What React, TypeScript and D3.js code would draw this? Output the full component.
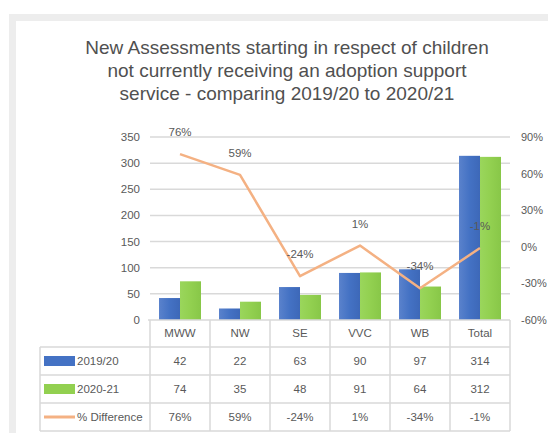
import React from "react";
import * as d3 from "d3";

const categories = ["MWW", "NW", "SE", "VVC", "WB", "Total"];
const series2019 = [42, 22, 63, 90, 97, 314];
const series2020 = [74, 35, 48, 91, 64, 312];
const pctDiff = [76, 59, -24, 1, -34, -1];
const leftTicks = [0, 50, 100, 150, 200, 250, 300, 350];
const rightTicks = [-60, -30, 0, 30, 60, 90];
const seriesNames = ["2019/20", "2020-21", "% Difference"];
const titleLines = [
  "New Assessments starting in respect of children",
  "not currently receiving an adoption support",
  "service - comparing 2019/20 to  2020/21",
];

const W = 548;
const H = 433;
const plotL = 150;
const plotR = 510;
const plotT = 137;
const plotB = 320;
const tableL = 40;
const rowH = 28;
const headerB = 347;
const BLUE = "#4472C4";
const GREEN = "#92D050";
const ORANGE = "#F4B183";
const TXT = "#595959";
const GRID = "#d9d9d9";
const FONT = "Liberation Sans, Arial, sans-serif";

export default function App() {
  const x = d3.scaleBand<string>().domain(categories).range([plotL, plotR]);
  const yL = d3.scaleLinear().domain([0, 350]).range([plotB, plotT]);
  const yR = d3.scaleLinear().domain([-60, 90]).range([plotB, plotT]);
  const barW = 21;
  const line = d3
    .line<number>()
    .x((_, i) => (x(categories[i]) as number) + x.bandwidth() / 2)
    .y((d) => yR(d));

  const rows = [
    { name: seriesNames[0], vals: series2019.map(String), key: "blue" },
    { name: seriesNames[1], vals: series2020.map(String), key: "green" },
    { name: seriesNames[2], vals: pctDiff.map((v) => `${v}%`), key: "line" },
  ];

  return (
    <svg
      width={W}
      height={H}
      style={{ position: "absolute", left: 0, top: 0, background: "#fff" }}
      fontFamily={FONT}
    >
      <defs>
        <linearGradient id="gb" x1="0" y1="0" x2="1" y2="0">
          <stop offset="0" stopColor="#5a82cc" />
          <stop offset="0.5" stopColor={BLUE} />
          <stop offset="1" stopColor="#3d68b8" />
        </linearGradient>
        <linearGradient id="gg" x1="0" y1="0" x2="1" y2="0">
          <stop offset="0" stopColor="#9ad65c" />
          <stop offset="0.5" stopColor={GREEN} />
          <stop offset="1" stopColor="#88c748" />
        </linearGradient>
      </defs>
      <rect x={0} y={0} width={W} height={H} fill="#fff" />
      <rect x={9} y={14} width={W - 9} height={7} fill="#ededed" />
      <rect x={9} y={14} width={7} height={H - 14} fill="#ededed" />

      {titleLines.map((t, i) => (
        <text
          key={i}
          x={287}
          y={54 + i * 23}
          textAnchor="middle"
          fontSize={19}
          fill="#505050"
        >
          {t}
        </text>
      ))}

      {leftTicks.map((t) => (
        <g key={t}>
          {t > 0 && (
            <line x1={plotL} x2={plotR} y1={yL(t)} y2={yL(t)} stroke={GRID} strokeWidth={1.5} />
          )}
          <text x={140} y={yL(t) + 4} textAnchor="end" fontSize={11.5} fill={TXT}>
            {t}
          </text>
        </g>
      ))}
      {rightTicks.map((t) => (
        <text key={t} x={521} y={yR(t) + 4} textAnchor="start" fontSize={11} fill={TXT}>
          {t}%
        </text>
      ))}

      {categories.map((c, i) => {
        const cx = (x(c) as number) + x.bandwidth() / 2;
        return (
          <g key={c}>
            <rect x={cx - barW} y={yL(series2019[i])} width={barW} height={plotB - yL(series2019[i])} fill="url(#gb)" />
            <rect x={cx} y={yL(series2020[i])} width={barW} height={plotB - yL(series2020[i])} fill="url(#gg)" />
          </g>
        );
      })}

      <path d={line(pctDiff) || ""} fill="none" stroke={ORANGE} strokeWidth={2.5} strokeLinejoin="round" />
      {pctDiff.map((v, i) => (
        <text
          key={i}
          x={(x(categories[i]) as number) + x.bandwidth() / 2}
          y={yR(v) - 18}
          textAnchor="middle"
          fontSize={11.5}
          fill={TXT}
        >
          {v}%
        </text>
      ))}

      {/* data table */}
      <g stroke={GRID} strokeWidth={1.5}>
        <line x1={plotL - 2} x2={plotR} y1={plotB} y2={plotB} />
        {[0, 1, 2, 3].map((r) => (
          <line key={r} x1={tableL} x2={plotR} y1={headerB + r * rowH} y2={headerB + r * rowH} />
        ))}
        <line x1={tableL} x2={tableL} y1={headerB} y2={headerB + 3 * rowH} />
        {categories.map((c) => (
          <line key={c} x1={x(c) as number} x2={x(c) as number} y1={plotB} y2={headerB + 3 * rowH} />
        ))}
        <line x1={plotR} x2={plotR} y1={plotB} y2={headerB + 3 * rowH} />
      </g>
      {categories.map((c) => (
        <text
          key={c}
          x={(x(c) as number) + x.bandwidth() / 2}
          y={337}
          textAnchor="middle"
          fontSize={11.5}
          fill={TXT}
        >
          {c}
        </text>
      ))}
      {rows.map((r, ri) => {
        const cy = headerB + ri * rowH + rowH / 2;
        return (
          <g key={r.name}>
            {r.key === "blue" && <rect x={44} y={cy - 5} width={31} height={10} fill={BLUE} />}
            {r.key === "green" && <rect x={44} y={cy - 5} width={31} height={10} fill={GREEN} />}
            {r.key === "line" && <line x1={44} x2={75} y1={cy} y2={cy} stroke={ORANGE} strokeWidth={3} />}
            <text x={77} y={cy + 4} fontSize={11.5} fill={TXT}>
              {r.name}
            </text>
            {r.vals.map((v, i) => (
              <text
                key={i}
                x={(x(categories[i]) as number) + x.bandwidth() / 2}
                y={cy + 4}
                textAnchor="middle"
                fontSize={11.5}
                fill={TXT}
              >
                {v}
              </text>
            ))}
          </g>
        );
      })}
    </svg>
  );
}
